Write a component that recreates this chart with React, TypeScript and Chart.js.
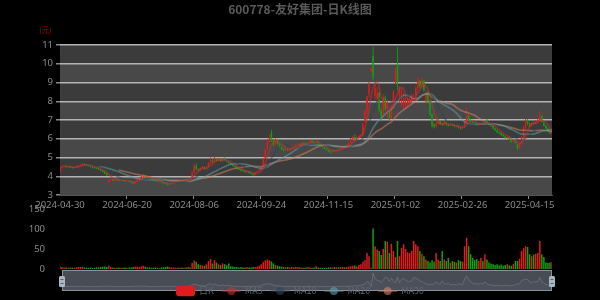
import React, { useEffect, useRef } from 'react';
import { Chart, registerables } from 'chart.js';

Chart.register(...registerables);

// Trading days per month (exchange holidays excluded)
const tradingMonths: [string, string][] = [
  ['2024-04', '30'],
  ['2024-05', '06 07 08 09 10 13 14 15 16 17 20 21 22 23 24 27 28 29 30 31'],
  ['2024-06', '03 04 05 06 07 11 12 13 14 17 18 19 20 21 24 25 26 27 28'],
  ['2024-07', '01 02 03 04 05 08 09 10 11 12 15 16 17 18 19 22 23 24 25 26 29 30 31'],
  ['2024-08', '01 02 05 06 07 08 09 12 13 14 15 16 19 20 21 22 23 26 27 28 29 30'],
  ['2024-09', '02 03 04 05 06 09 10 11 12 13 18 19 20 23 24 25 26 27 30'],
  ['2024-10', '08 09 10 11 14 15 16 17 18 21 22 23 24 25 28 29 30 31'],
  ['2024-11', '01 04 05 06 07 08 11 12 13 14 15 18 19 20 21 22 25 26 27 28 29'],
  ['2024-12', '02 03 04 05 06 09 10 11 12 13 16 17 18 19 20 23 24 25 26 27 30 31'],
  ['2025-01', '02 03 06 07 08 09 10 13 14 15 16 17 20 21 22 23 24 27'],
  ['2025-02', '05 06 07 10 11 12 13 14 17 18 19 20 21 24 25 26 27 28'],
  ['2025-03', '03 04 05 06 07 10 11 12 13 14 17 18 19 20 21 24 25 26 27 28 31'],
  ['2025-04', '01 02 03 07 08 09 10 11 14 15 16 17 18 21 22 23 24 25 28 29 30'],
];
const dates: string[] = tradingMonths.flatMap(([m, days]) => days.split(' ').map((d) => `${m}-${d}`));

// Daily prices (元)
const opens: number[] = [
  4.22, 4.45, 4.52, 4.55, 4.50, 4.53, 4.48, 4.44, 4.47, 4.52,
  4.58, 4.62, 4.65, 4.60, 4.58, 4.55, 4.50, 4.46, 4.42, 4.40,
  4.36, 4.30, 4.22, 4.15, 3.68, 3.80, 3.82, 3.78, 3.85, 3.80,
  3.78, 3.80, 3.76, 3.74, 3.78, 3.72, 3.66, 3.62, 3.75, 3.85,
  3.90, 3.98, 4.05, 3.95, 3.92, 3.88, 3.82, 3.78, 3.74, 3.70,
  3.72, 3.66, 3.62, 3.58, 3.55, 3.62, 3.68, 3.75, 3.78, 3.74,
  3.80, 3.78, 3.82, 3.80, 3.85, 3.84, 4.22, 4.55, 4.38, 4.30,
  4.42, 4.50, 4.40, 4.48, 4.70, 4.85, 4.75, 4.95, 4.85, 4.90,
  4.80, 4.92, 4.85, 4.78, 4.70, 4.62, 4.55, 4.48, 4.40, 4.35,
  4.30, 4.28, 4.22, 4.25, 4.18, 4.12, 4.08, 4.20, 4.28, 4.35,
  4.50, 4.95, 5.45, 5.85, 6.30, 5.90, 5.70, 5.95, 5.75, 5.55,
  5.45, 5.38, 5.45, 5.40, 5.48, 5.60, 5.55, 5.65, 5.72, 5.68,
  5.80, 5.75, 5.70, 5.78, 5.90, 5.82, 5.75, 5.85, 5.70, 5.62,
  5.55, 5.48, 5.40, 5.32, 5.28, 5.38, 5.35, 5.45, 5.42, 5.50,
  5.58, 5.55, 5.68, 5.75, 6.00, 6.10, 6.02, 6.08, 6.15, 6.20,
  6.90, 7.45, 8.40, 9.60, 10.40, 8.30, 8.10, 8.45, 7.50, 7.30,
  8.20, 7.60, 7.40, 7.10, 7.70, 9.00, 10.00, 8.20, 7.80, 7.90,
  7.70, 7.80, 7.90, 8.00, 8.10, 8.20, 8.70, 9.10, 8.80, 9.10,
  8.00, 8.50, 8.00, 7.30, 6.75, 6.65, 6.80, 6.95, 6.80, 6.75,
  6.90, 6.75, 6.70, 6.78, 6.72, 6.65, 6.68, 6.60, 6.55, 6.60,
  6.90, 7.20, 7.00, 6.90, 6.85, 6.80, 6.75, 6.80, 6.85, 6.80,
  6.98, 6.85, 6.75, 6.70, 6.55, 6.45, 6.35, 6.30, 6.20, 6.15,
  6.05, 6.10, 5.95, 5.85, 5.90, 5.70, 5.50, 5.70, 6.10, 6.60,
  7.00, 6.80, 6.70, 6.85, 6.80, 6.95, 7.00, 7.20, 6.90, 6.70,
  6.55, 6.40, 6.30,
];
const closes: number[] = [
  4.45, 4.52, 4.55, 4.50, 4.53, 4.48, 4.44, 4.47, 4.52, 4.58,
  4.62, 4.65, 4.60, 4.58, 4.55, 4.50, 4.46, 4.42, 4.40, 4.36,
  4.30, 4.22, 4.15, 4.05, 3.80, 3.82, 3.78, 3.85, 3.80, 3.78,
  3.80, 3.76, 3.74, 3.78, 3.72, 3.66, 3.62, 3.75, 3.85, 3.90,
  3.98, 4.05, 3.95, 3.92, 3.88, 3.82, 3.78, 3.74, 3.70, 3.72,
  3.66, 3.62, 3.58, 3.55, 3.62, 3.68, 3.75, 3.78, 3.74, 3.80,
  3.78, 3.82, 3.80, 3.85, 3.82, 4.20, 4.55, 4.38, 4.30, 4.42,
  4.50, 4.40, 4.48, 4.70, 4.85, 4.75, 4.95, 4.85, 4.90, 4.80,
  4.92, 4.85, 4.78, 4.70, 4.62, 4.55, 4.48, 4.40, 4.35, 4.30,
  4.28, 4.22, 4.25, 4.18, 4.12, 4.08, 4.20, 4.28, 4.35, 4.50,
  4.95, 5.45, 5.85, 6.05, 5.90, 5.70, 5.95, 5.75, 5.55, 5.45,
  5.38, 5.45, 5.40, 5.48, 5.60, 5.55, 5.65, 5.72, 5.68, 5.80,
  5.75, 5.70, 5.78, 5.90, 5.82, 5.75, 5.85, 5.70, 5.62, 5.55,
  5.48, 5.40, 5.32, 5.28, 5.38, 5.35, 5.45, 5.42, 5.50, 5.58,
  5.55, 5.68, 5.75, 6.00, 6.10, 6.02, 6.08, 6.15, 6.20, 6.82,
  7.50, 8.25, 8.90, 9.79, 9.30, 8.70, 8.45, 7.55, 7.20, 8.20,
  7.60, 7.90, 7.10, 7.70, 8.50, 9.60, 9.00, 8.60, 7.90, 8.30,
  7.80, 8.10, 8.00, 8.30, 8.20, 8.70, 9.10, 8.80, 9.10, 8.60,
  8.50, 8.00, 7.30, 6.70, 6.65, 6.80, 6.95, 6.80, 6.75, 6.90,
  6.75, 6.70, 6.78, 6.72, 6.65, 6.68, 6.60, 6.55, 6.60, 6.90,
  7.20, 7.00, 6.90, 6.85, 6.80, 6.75, 6.80, 6.85, 6.80, 6.88,
  6.85, 6.75, 6.70, 6.55, 6.45, 6.35, 6.30, 6.20, 6.15, 6.05,
  6.10, 5.95, 5.85, 5.90, 5.80, 5.50, 5.70, 6.10, 6.60, 7.00,
  6.80, 6.70, 6.85, 6.80, 6.95, 7.00, 7.20, 6.90, 6.70, 6.55,
  6.40, 6.30, 6.45,
];
const highs: number[] = [
  4.52, 4.58, 4.60, 4.58, 4.57, 4.55, 4.50, 4.50, 4.55, 4.61,
  4.66, 4.70, 4.68, 4.63, 4.60, 4.57, 4.52, 4.48, 4.45, 4.43,
  4.38, 4.32, 4.25, 4.17, 3.86, 3.86, 3.84, 3.88, 3.87, 3.82,
  3.83, 3.81, 3.78, 3.80, 3.79, 3.73, 3.68, 3.78, 3.88, 3.93,
  4.02, 4.12, 4.07, 3.97, 3.94, 3.89, 3.84, 3.80, 3.76, 3.75,
  3.73, 3.68, 3.64, 3.60, 3.64, 3.70, 3.77, 3.81, 3.79, 3.82,
  3.83, 3.85, 3.84, 3.88, 3.87, 4.25, 4.65, 4.68, 4.42, 4.46,
  4.55, 4.52, 4.52, 4.75, 5.00, 4.90, 5.05, 4.98, 4.96, 4.93,
  4.96, 5.00, 4.88, 4.80, 4.72, 4.65, 4.57, 4.50, 4.43, 4.38,
  4.33, 4.30, 4.28, 4.27, 4.20, 4.14, 4.23, 4.31, 4.38, 4.55,
  4.95, 5.45, 5.99, 6.20, 6.48, 6.00, 6.02, 5.98, 5.78, 5.60,
  5.50, 5.50, 5.48, 5.52, 5.64, 5.63, 5.69, 5.76, 5.75, 5.84,
  5.83, 5.78, 5.82, 5.94, 5.92, 5.85, 5.89, 5.87, 5.73, 5.65,
  5.58, 5.50, 5.43, 5.36, 5.42, 5.41, 5.48, 5.48, 5.54, 5.62,
  5.62, 5.72, 5.80, 6.05, 6.18, 6.25, 6.12, 6.20, 6.26, 6.82,
  7.50, 8.25, 9.08, 9.79, 10.90, 9.00, 8.75, 8.50, 7.60, 8.40,
  8.30, 8.10, 7.50, 7.80, 8.60, 9.80, 10.90, 8.80, 8.70, 8.45,
  8.40, 8.20, 8.20, 8.40, 8.40, 8.80, 9.30, 9.15, 9.25, 9.15,
  8.60, 8.55, 8.05, 7.35, 6.85, 6.88, 7.05, 6.98, 6.85, 6.95,
  6.92, 6.80, 6.82, 6.80, 6.75, 6.72, 6.70, 6.63, 6.64, 7.00,
  7.70, 7.30, 7.05, 6.95, 6.90, 6.85, 6.84, 6.88, 6.88, 6.92,
  7.05, 6.88, 6.78, 6.72, 6.58, 6.48, 6.38, 6.32, 6.24, 6.18,
  6.14, 6.12, 5.98, 5.94, 5.92, 5.72, 5.75, 6.15, 6.70, 7.10,
  7.05, 6.85, 6.90, 6.90, 7.00, 7.08, 7.50, 7.25, 6.95, 6.75,
  6.60, 6.45, 6.50,
];
const lows: number[] = [
  4.18, 4.42, 4.48, 4.46, 4.46, 4.45, 4.40, 4.41, 4.45, 4.50,
  4.55, 4.58, 4.57, 4.55, 4.52, 4.47, 4.43, 4.40, 4.37, 4.33,
  4.27, 4.20, 4.12, 4.02, 3.62, 3.76, 3.75, 3.76, 3.78, 3.75,
  3.75, 3.73, 3.71, 3.72, 3.70, 3.63, 3.58, 3.60, 3.73, 3.82,
  3.88, 3.95, 3.93, 3.89, 3.85, 3.80, 3.76, 3.72, 3.68, 3.68,
  3.64, 3.60, 3.56, 3.50, 3.53, 3.60, 3.66, 3.73, 3.72, 3.72,
  3.76, 3.76, 3.78, 3.78, 3.80, 3.82, 4.18, 4.35, 4.26, 4.28,
  4.38, 4.37, 4.38, 4.46, 4.66, 4.72, 4.73, 4.80, 4.82, 4.77,
  4.78, 4.82, 4.75, 4.67, 4.60, 4.52, 4.45, 4.38, 4.32, 4.27,
  4.25, 4.20, 4.19, 4.15, 4.09, 4.02, 4.06, 4.18, 4.26, 4.33,
  4.48, 4.92, 5.40, 5.80, 5.85, 5.62, 5.66, 5.70, 5.50, 5.40,
  5.33, 5.35, 5.36, 5.38, 5.46, 5.52, 5.53, 5.62, 5.65, 5.66,
  5.72, 5.67, 5.68, 5.76, 5.79, 5.72, 5.73, 5.67, 5.60, 5.52,
  5.45, 5.37, 5.28, 5.22, 5.26, 5.32, 5.33, 5.39, 5.40, 5.48,
  5.52, 5.53, 5.65, 5.73, 5.96, 5.98, 5.98, 6.04, 6.10, 6.18,
  6.85, 7.30, 8.20, 9.55, 9.10, 8.10, 7.95, 7.40, 7.00, 7.20,
  7.50, 7.10, 7.00, 7.05, 7.65, 8.90, 8.60, 7.90, 7.75, 7.60,
  7.65, 7.70, 7.85, 7.95, 8.05, 8.15, 8.60, 8.70, 8.75, 8.50,
  7.90, 7.90, 7.20, 6.60, 6.55, 6.60, 6.75, 6.75, 6.70, 6.72,
  6.70, 6.65, 6.67, 6.68, 6.62, 6.60, 6.56, 6.50, 6.52, 6.58,
  6.88, 6.95, 6.85, 6.80, 6.76, 6.70, 6.72, 6.77, 6.76, 6.78,
  6.82, 6.72, 6.66, 6.52, 6.42, 6.32, 6.26, 6.16, 6.10, 6.00,
  6.02, 5.92, 5.80, 5.82, 5.75, 5.40, 5.45, 5.68, 6.05, 6.55,
  6.72, 6.62, 6.66, 6.75, 6.78, 6.90, 6.95, 6.85, 6.65, 6.50,
  6.35, 6.25, 6.25,
];
// Daily turnover (万手)
const volumes: number[] = [
  6, 5, 4, 4, 3, 4, 3, 3, 4, 5,
  5, 6, 4, 3, 3, 4, 3, 3, 4, 4,
  5, 6, 6, 5, 8, 5, 4, 3, 3, 4,
  3, 3, 4, 3, 4, 4, 5, 6, 6, 5,
  7, 8, 6, 4, 4, 3, 3, 4, 3, 3,
  4, 4, 5, 6, 5, 4, 4, 3, 3, 4,
  4, 3, 4, 5, 4, 15, 21, 18, 12, 10,
  9, 8, 12, 20, 25, 14, 22, 16, 12, 10,
  14, 12, 9, 14, 7, 6, 5, 5, 4, 5,
  4, 4, 5, 4, 4, 5, 5, 6, 8, 12,
  18, 22, 24, 22, 19, 14, 10, 8, 7, 6,
  5, 4, 5, 4, 5, 4, 5, 5, 4, 4,
  3, 4, 5, 4, 3, 4, 7, 4, 3, 3,
  3, 3, 4, 4, 3, 5, 4, 4, 5, 5,
  4, 5, 6, 7, 8, 9, 7, 10, 12, 18,
  22, 40, 32, 3, 101, 57, 49, 45, 35, 50,
  70, 68, 40, 63, 45, 30, 70, 32, 53, 62,
  50, 42, 40, 45, 70, 62, 57, 45, 38, 32,
  24, 20, 16, 22, 18, 40, 24, 20, 45, 24,
  20, 28, 16, 20, 18, 16, 22, 20, 18, 57,
  78, 57, 37, 28, 22, 25, 20, 28, 20, 37,
  24, 16, 14, 12, 10, 12, 9, 11, 8, 10,
  12, 9, 8, 12, 20, 20, 25, 45, 52, 57,
  55, 37, 32, 36, 38, 40, 70, 37, 30, 16,
  15, 16, 17,
];

const maPeriods: number[] = [5, 10, 20, 30];
const maColors: string[] = ['194,53,49', '47,69,84', '97,160,168', '212,130,101'];
const yTicks = { min: 3, max: 11, step: 1 };
const volTicks = { min: 0, max: 150, step: 50 };
const labelEvery = 33;

const UP = '#e01c1c';
const DOWN = '#12a012';
const FONT = '"Noto Sans", "Noto Sans CJK SC", sans-serif';
const CJK = '"Noto Sans CJK SC", "Noto Sans", sans-serif';

const candleColors = closes.map((c, i) => (c >= opens[i] ? UP : DOWN));

function movingAverage(n: number): (number | null)[] {
  return closes.map((_, i) => {
    if (i < n - 1) return null;
    let s = 0;
    for (let k = i - n + 1; k <= i; k++) s += closes[k];
    return +(s / n).toFixed(3);
  });
}

const splitBands = {
  id: 'splitBands',
  beforeDraw(chart: any) {
    const { ctx, chartArea: a, scales } = chart;
    const y = scales.y;
    ctx.save();
    for (let v = yTicks.min; v < yTicks.max; v += yTicks.step) {
      const top = y.getPixelForValue(v + yTicks.step);
      const bottom = y.getPixelForValue(v);
      ctx.fillStyle = (v - yTicks.min) % 2 === 0 ? '#484848' : '#3b3b3b';
      ctx.fillRect(a.left, top, a.right - a.left, bottom - top);
    }
    ctx.restore();
  },
};

const titles = {
  id: 'titles',
  afterDraw(chart: any) {
    const { ctx } = chart;
    ctx.save();
    ctx.textAlign = 'center';
    ctx.textBaseline = 'middle';
    ctx.fillStyle = '#5a5a5a';
    ctx.font = `bold 12px ${CJK}`;
    ctx.fillText('600778-友好集团-日K线图', 300, 9);
    ctx.fillStyle = '#a00000';
    ctx.font = `7.5px ${CJK}`;
    ctx.fillText('(元)', 45.5, 30);
    ctx.restore();
  },
};

const sliderAndLegend = {
  id: 'sliderAndLegend',
  afterDraw(chart: any) {
    const { ctx, scales } = chart;
    const x = scales.x;
    const top = 75;
    const bottom = 96;
    const left = 62;
    const right = 552;
    ctx.save();
    ctx.fillStyle = '#474c55';
    ctx.fillRect(left, top, right - left, bottom - top);

    // overview of turnover inside the zoom bar
    const maxV = Math.max(...volumes);
    ctx.beginPath();
    volumes.forEach((v, i) => {
      const px = x.getPixelForValue(i);
      const py = bottom - 4 - (v / maxV) * 14;
      if (i === 0) ctx.moveTo(px, py);
      else ctx.lineTo(px, py);
    });
    ctx.strokeStyle = 'rgba(150,160,175,0.35)';
    ctx.lineWidth = 1;
    ctx.stroke();
    ctx.lineTo(x.getPixelForValue(volumes.length - 1), bottom - 1);
    ctx.lineTo(x.getPixelForValue(0), bottom - 1);
    ctx.closePath();
    ctx.fillStyle = 'rgba(150,160,175,0.06)';
    ctx.fill();

    ctx.strokeStyle = '#8a9099';
    ctx.lineWidth = 1;
    ctx.strokeRect(left + 0.5, top + 0.5, right - left - 1, bottom - top - 1);

    // drag handles
    [left, right].forEach((hx) => {
      ctx.fillStyle = '#a9b6c6';
      ctx.beginPath();
      ctx.roundRect(hx - 3, 81, 6, 11, 1.5);
      ctx.fill();
      ctx.strokeStyle = '#59606b';
      ctx.lineWidth = 1;
      ctx.beginPath();
      ctx.moveTo(hx - 1.5, 84.5);
      ctx.lineTo(hx + 1.5, 84.5);
      ctx.moveTo(hx - 1.5, 88.5);
      ctx.lineTo(hx + 1.5, 88.5);
      ctx.stroke();
    });

    // legend
    const items = [
      { label: '日K', color: UP, rect: true },
      ...maPeriods.map((p, k) => ({ label: `MA${p}`, color: `rgba(${maColors[k]},0.6)`, rect: false })),
    ];
    ctx.font = `9px ${CJK}`;
    const iconW = 19;
    const gapText = 4;
    const gapItem = 8;
    const widths = items.map((it) => iconW + gapText + ctx.measureText(it.label).width);
    const total = widths.reduce((a, b) => a + b, 0) + gapItem * (items.length - 1);
    let cx = 300 - total / 2;
    const cy = 96;
    ctx.textBaseline = 'middle';
    ctx.textAlign = 'left';
    items.forEach((it, k) => {
      if (it.rect) {
        ctx.fillStyle = it.color;
        ctx.beginPath();
        ctx.roundRect(cx, cy - 5.25, iconW, 10.5, 3);
        ctx.fill();
      } else {
        ctx.strokeStyle = it.color;
        ctx.lineWidth = 1.5;
        ctx.beginPath();
        ctx.moveTo(cx, cy);
        ctx.lineTo(cx + iconW, cy);
        ctx.stroke();
        ctx.fillStyle = it.color;
        ctx.beginPath();
        ctx.arc(cx + iconW / 2, cy, 4, 0, Math.PI * 2);
        ctx.fill();
      }
      ctx.fillStyle = '#60666e';
      ctx.fillText(it.label, cx + iconW + gapText, cy);
      cx += widths[k] + gapItem;
    });
    ctx.restore();
  },
};

export default function App() {
  const priceRef = useRef<HTMLCanvasElement>(null);
  const volRef = useRef<HTMLCanvasElement>(null);

  useEffect(() => {
    document.body.style.margin = '0';
    document.body.style.background = '#000';

    const tickFont = { family: FONT, size: 9.5 };
    const lineSets = maPeriods.map((p, k) => ({
      type: 'line' as const,
      label: `MA${p}`,
      data: movingAverage(p),
      borderColor: `rgba(${maColors[k]},0.55)`,
      borderWidth: 1.6,
      pointRadius: 0,
      tension: 0.4,
      fill: false,
      order: 0,
    }));

    const price = new Chart(priceRef.current!, {
      type: 'bar',
      data: {
        labels: dates,
        datasets: [
          ...lineSets,
          {
            type: 'bar' as const,
            label: '日K',
            data: opens.map((o, i) => [o, closes[i]]) as any,
            backgroundColor: candleColors,
            barThickness: 1.5,
            minBarLength: 1,
            grouped: false,
            inflateAmount: 0,
            order: 1,
          },
          {
            type: 'bar' as const,
            label: 'range',
            data: lows.map((l, i) => [l, highs[i]]) as any,
            backgroundColor: candleColors,
            barThickness: 0.9,
            grouped: false,
            inflateAmount: 0,
            order: 2,
          },
        ],
      },
      options: {
        animation: false,
        responsive: false,
        maintainAspectRatio: false,
        events: [],
        layout: { padding: { top: 45, right: 48, left: 0, bottom: 0 } },
        plugins: { legend: { display: false }, tooltip: { enabled: false }, title: { display: false } },
        scales: {
          x: {
            type: 'category',
            offset: false,
            grid: {
              display: true,
              drawOnChartArea: false,
              tickLength: 4,
              tickColor: (c: any) => (c.index % labelEvery === 0 ? '#8a8a8a' : 'rgba(0,0,0,0)'),
            },
            border: { display: true, color: '#555555' },
            ticks: {
              autoSkip: false,
              maxRotation: 0,
              color: '#8a8a8a',
              font: tickFont,
              padding: 1,
              callback: (_v: any, i: number) => (i % labelEvery === 0 ? dates[i] : ''),
            },
            afterFit: (s: any) => {
              s.height = 20;
            },
          },
          y: {
            min: yTicks.min,
            max: yTicks.max,
            ticks: { stepSize: yTicks.step, color: '#8a8a8a', font: tickFont, padding: 3 },
            grid: {
              color: (c: any) => (c.tick && c.tick.value === yTicks.min ? 'rgba(0,0,0,0)' : '#b4b4b4'),
              lineWidth: 1.5,
              tickLength: 4,
              tickColor: '#8a8a8a',
            },
            border: { display: false },
            afterFit: (s: any) => {
              s.width = 60;
            },
          },
        },
      },
      plugins: [splitBands, titles],
    });

    const vol = new Chart(volRef.current!, {
      type: 'bar',
      data: {
        labels: dates,
        datasets: [
          {
            label: '成交量',
            data: volumes,
            backgroundColor: candleColors,
            barThickness: 1.5,
            inflateAmount: 0,
          },
        ],
      },
      options: {
        animation: false,
        responsive: false,
        maintainAspectRatio: false,
        events: [],
        layout: { padding: { top: 14, right: 48, left: 0, bottom: 31 } },
        plugins: { legend: { display: false }, tooltip: { enabled: false } },
        scales: {
          x: { type: 'category', offset: false, display: false },
          y: {
            min: volTicks.min,
            max: volTicks.max,
            ticks: { stepSize: volTicks.step, color: '#8a8a8a', font: tickFont, padding: 7 },
            grid: { display: false },
            border: { display: false },
            afterFit: (s: any) => {
              s.width = 60;
            },
          },
        },
      },
      plugins: [sliderAndLegend],
    });

    return () => {
      price.destroy();
      vol.destroy();
    };
  }, []);

  return (
    <div style={{ position: 'fixed', left: 0, top: 0, width: 600, height: 300, background: '#000', overflow: 'hidden' }}>
      <canvas ref={priceRef} width={600} height={215} style={{ position: 'absolute', left: 0, top: 0 }} />
      <canvas ref={volRef} width={600} height={105} style={{ position: 'absolute', left: 0, top: 195 }} />
    </div>
  );
}
